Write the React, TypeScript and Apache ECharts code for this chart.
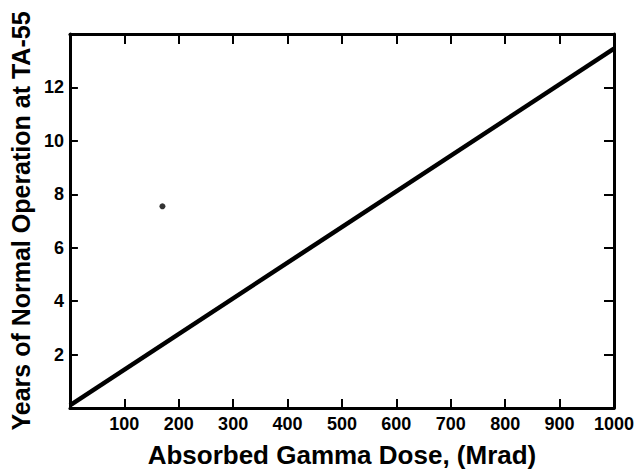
import React, { useEffect, useRef } from "react";
import * as echarts from "echarts";

const lineX = [0, 1000];
const lineY = [0.1, 13.45];
const pointX = [170];
const pointY = [7.55];
const xTicks = [100, 200, 300, 400, 500, 600, 700, 800, 900, 1000];
const yTicks = [2, 4, 6, 8, 10, 12];
const xTitle = "Absorbed Gamma Dose, (Mrad)";
const yTitle = "Years of Normal Operation at TA-55";

export default function App() {
  const ref = useRef<HTMLDivElement>(null);
  useEffect(() => {
    if (!ref.current) return;
    const chart = echarts.init(ref.current, undefined, { renderer: "svg" });
    const font = "Liberation Sans, Arial, sans-serif";
    const mkLine = () => ({ show: true, onZero: false, lineStyle: { color: "#000", width: 3 } });
    const mkTick = (len: number) => ({ show: true, inside: true, length: len, lineStyle: { color: "#000", width: 2 } });
    chart.setOption({
      animation: false,
      backgroundColor: "#fff",
      grid: { left: 68, right: 22, top: 34, bottom: 64, show: false },
      xAxis: [
        {
          type: "value", min: 0, max: 1000, interval: 100, position: "bottom",
          axisLine: mkLine(), axisTick: mkTick(9), splitLine: { show: false },
          axisLabel: {
            color: "#000", fontFamily: font, fontWeight: "bold", fontSize: 18, margin: 7,
            formatter: (v: number) => (xTicks.includes(v) ? String(v) : ""),
          },
          name: xTitle, nameLocation: "middle", nameGap: 34,
          nameTextStyle: { color: "#000", fontFamily: font, fontWeight: "bold", fontSize: 26 },
        },
        {
          type: "value", min: 0, max: 1000, interval: 100, position: "top",
          axisLine: mkLine(), axisTick: mkTick(10), axisLabel: { show: false }, splitLine: { show: false },
        },
      ],
      yAxis: [
        {
          type: "value", min: 0, max: 14, interval: 2, position: "left",
          axisLine: mkLine(), axisTick: mkTick(8), splitLine: { show: false },
          axisLabel: {
            color: "#000", fontFamily: font, fontWeight: "bold", fontSize: 18, margin: 6,
            formatter: (v: number) => (yTicks.includes(v) ? String(v) : ""),
          },
          name: yTitle, nameLocation: "middle", nameGap: 33,
          nameTextStyle: { color: "#000", fontFamily: font, fontWeight: "bold", fontSize: 25 },
        },
        {
          type: "value", min: 0, max: 14, interval: 2, position: "right",
          axisLine: mkLine(), axisTick: mkTick(10), axisLabel: { show: false }, splitLine: { show: false },
        },
      ],
      series: [
        {
          type: "line",
          xAxisIndex: 0,
          yAxisIndex: 0,
          data: lineX.map((x, i) => [x, lineY[i]]),
          showSymbol: false,
          lineStyle: { color: "#000", width: 4.5 },
        },
        {
          type: "scatter",
          xAxisIndex: 0,
          yAxisIndex: 0,
          data: pointX.map((x, i) => [x, pointY[i]]),
          symbolSize: 6,
          itemStyle: { color: "#000" },
        },
      ],
    });
    return () => chart.dispose();
  }, []);
  return <div ref={ref} style={{ position: "fixed", left: 0, top: 0, width: 637, height: 473 }} />;
}
